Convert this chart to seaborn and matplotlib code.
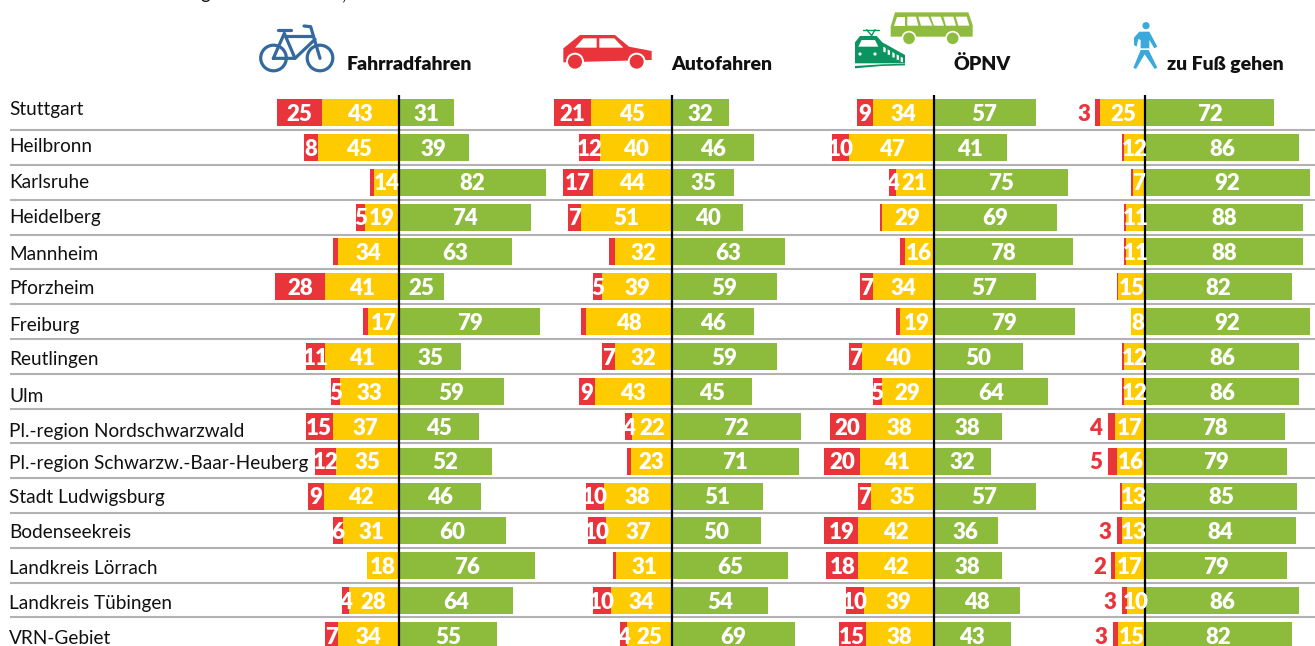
import matplotlib
matplotlib.use("Agg")
import matplotlib.pyplot as plt
from matplotlib.patches import Circle, Polygon
import pandas as pd
import seaborn as sns

cities = ["Stuttgart", "Heilbronn", "Karlsruhe", "Heidelberg", "Mannheim", "Pforzheim", "Freiburg",
          "Reutlingen", "Ulm", "Pl.-region Nordschwarzwald", "Pl.-region Schwarzw.-Baar-Heuberg",
          "Stadt Ludwigsburg", "Bodenseekreis", "Landkreis Lörrach", "Landkreis Tübingen", "VRN-Gebiet"]

rad_rot = [25, 8, 2, 5, 3, 28, 3, 11, 5, 15, 12, 9, 6, 0, 4, 7]
rad_gelb = [43, 45, 14, 19, 34, 41, 17, 41, 33, 37, 35, 42, 31, 18, 28, 34]
rad_gruen = [31, 39, 82, 74, 63, 25, 79, 35, 59, 45, 52, 46, 60, 76, 64, 55]

auto_rot = [21, 12, 17, 7, 3, 5, 3, 7, 9, 4, 2, 10, 10, 2, 10, 4]
auto_gelb = [45, 40, 44, 51, 32, 39, 48, 32, 43, 22, 23, 38, 37, 31, 34, 25]
auto_gruen = [32, 46, 35, 40, 63, 59, 46, 59, 45, 72, 71, 51, 50, 65, 54, 69]

oepnv_rot = [9, 10, 4, 1, 3, 7, 2, 7, 5, 20, 20, 7, 19, 18, 10, 15]
oepnv_gelb = [34, 47, 21, 29, 16, 34, 19, 40, 29, 38, 41, 35, 42, 42, 39, 38]
oepnv_gruen = [57, 41, 75, 69, 78, 57, 79, 50, 64, 38, 32, 57, 36, 38, 48, 43]

fuss_rot = [3, 1, 1, 1, 1, 1, 0, 1, 1, 4, 5, 1, 3, 2, 3, 3]
fuss_gelb = [25, 12, 7, 11, 11, 15, 8, 12, 12, 17, 16, 13, 13, 17, 10, 15]
fuss_gruen = [72, 86, 92, 88, 88, 82, 92, 86, 86, 78, 79, 85, 84, 79, 86, 82]

titles = ["Fahrradfahren", "Autofahren", "ÖPNV", "zu Fuß gehen"]

W, H = 1315, 646
ROT, GELB, GRUEN = "#e9343b", "#fecb00", "#8dbb3c"
label_y = [110, 146, 182, 218, 254, 289, 325, 360, 396, 431, 463, 497, 533, 568, 604, 639]

sns.set_theme(style="white")
plt.rcParams["font.family"] = ["Lato", "DejaVu Sans"]
fig = plt.figure(figsize=(W / 100, H / 100), dpi=100)

# Background layer in pixel coordinates: separators, row names, headers, icons
bg = fig.add_axes([0, 0, 1, 1])
bg.set_xlim(0, W)
bg.set_ylim(H, 0)
bg.axis("off")
for i in range(15):
    y = 130.2 + 34.8 * i
    bg.plot([10, W], [y, y], color="#b2b2b2", lw=1.5, solid_capstyle="butt")
for name, y in zip(cities, label_y):
    bg.text(9, y, name, fontsize=13.7, color="#111111", va="center", ha="left")
for t, x in zip(titles, [347, 671, 954, 1167]):
    bg.text(x, 64.5, t, fontsize=14, fontweight="heavy", color="#111111", va="center", ha="left")
# Remains of a heading line cut off by the upper picture edge
for t, x in zip(["g", ","], [200, 342]):
    bg.text(x, -1, t, fontsize=13.7, color="#111111", va="baseline", ha="left")


def pts(ox, oy, seq, k=3.0):
    return [(ox + a / k, oy + b / k) for a, b in seq]


# Bicycle
BLUE = "#33699f"
for cx in (273.5, 320):
    bg.add_patch(Circle((cx, 58), 12.8, fill=False, ec=BLUE, lw=2.3))
for seq in ([(520, 175), (553, 100), (585, 175), (520, 175)],
            [(585, 175), (645, 118)], [(560, 108), (640, 108)],
            [(612, 78), (632, 80), (660, 175)], [(535, 91), (572, 91)]):
    xs, ys = zip(*pts(100, 0, seq))
    bg.plot(xs, ys, color=BLUE, lw=2.3, solid_capstyle="round", solid_joinstyle="round")

# Car
CAR = ROT
bg.add_patch(Polygon(pts(555, 25, [(25, 70), (75, 30), (180, 30), (222, 65), (290, 78), (290, 105),
                                   (25, 112)]), fc=CAR, ec="none"))
for seq in ([(60, 68), (85, 40), (125, 40), (125, 68)], [(133, 40), (178, 40), (205, 68), (133, 68)]):
    bg.add_patch(Polygon(pts(555, 25, seq), fc="white", ec="none"))
for cx in (60, 245):
    bg.add_patch(Circle((555 + cx / 3, 25 + 110 / 3), 9, fc="white", ec="none"))
    bg.add_patch(Circle((555 + cx / 3, 25 + 110 / 3), 7, fc=CAR, ec="none"))

# Bus
BUS = "#8fbc3f"
bg.add_patch(Polygon(pts(850, 5, [(122, 95), (122, 65), (135, 22), (355, 22), (368, 60), (368, 95)]),
                     fc=BUS, ec="none"))
for seq in ([(140, 35), (165, 35), (165, 62), (133, 62)], [(172, 35), (198, 35), (205, 62), (172, 62)],
            [(205, 35), (235, 35), (247, 62), (213, 62)], [(242, 35), (272, 35), (282, 62), (252, 62)],
            [(280, 35), (310, 35), (318, 62), (288, 62)], [(317, 35), (350, 35), (358, 62), (325, 62)]):
    bg.add_patch(Polygon(pts(850, 5, seq), fc="white", ec="none"))
for cx in (177, 308):
    bg.add_patch(Circle((850 + cx / 3, 5 + 100 / 3), 7.5, fc="white", ec="none"))
    bg.add_patch(Circle((850 + cx / 3, 5 + 100 / 3), 5.8, fc=BUS, ec="none"))

# Train
TRAIN = "#0a9460"
bg.add_patch(Polygon(pts(850, 5, [(15, 170), (15, 112), (30, 93), (80, 93), (97, 112), (165, 150),
                                  (165, 175), (15, 175)]), fc=TRAIN, ec="none"))
bg.add_patch(Polygon(pts(850, 5, [(25, 125), (35, 105), (75, 105), (85, 125)]), fc="white", ec="none"))
for cx in (30, 75):
    bg.add_patch(Circle((850 + cx / 3, 5 + 147 / 3), 1.6, fc="white", ec="none"))
for a, b in [(100, 125), (113, 133), (127, 141), (140, 148), (152, 155)]:
    bg.add_patch(Polygon(pts(850, 5, [(a, b), (a + 7, b + 4), (a + 7, b + 17), (a, b + 16)]), fc="white", ec="none"))
bg.add_patch(Polygon(pts(850, 5, [(15, 183), (95, 178), (165, 176), (165, 181), (95, 183), (15, 190)]),
                     fc=TRAIN, ec="none"))
for seq in ([(38, 74), (87, 74)], [(50, 74), (65, 92), (75, 74)]):
    xs, ys = zip(*pts(850, 5, seq))
    bg.plot(xs, ys, color=TRAIN, lw=1.0)

# Pedestrian
PED = "#3ba9dc"
bg.add_patch(Circle((1120 + 78 / 3, 15 + 32 / 3), 3.6, fc=PED, ec="none"))
bg.add_patch(Polygon(pts(1120, 15, [(58, 50), (88, 50), (112, 95), (103, 100), (88, 75), (88, 100), (62, 100),
                                    (62, 75), (55, 72), (50, 95), (42, 90), (42, 68)]), fc=PED, ec="none"))
bg.add_patch(Polygon(pts(1120, 15, [(62, 105), (86, 105), (112, 158), (104, 162), (74, 118), (48, 162), (40, 158)]),
                     fc=PED, ec="none"))

# Four diverging panels, each on its own full-figure axes
SCALE = 1.79
panels = [(398.8, rad_rot, rad_gelb, rad_gruen, False),
          (671.8, auto_rot, auto_gelb, auto_gruen, False),
          (933.6, oepnv_rot, oepnv_gelb, oepnv_gruen, False),
          (1145.2, fuss_rot, fuss_gelb, fuss_gruen, True)]

for zero, rot, gelb, gruen, outside in panels:
    ax = fig.add_axes([0, 0, 1, 1])
    ax.patch.set_alpha(0)
    df = pd.DataFrame({"city": cities, "rot": rot, "gelb": gelb, "gruen": gruen})
    df["links"] = -(df["rot"] + df["gelb"])
    df["mitte"] = -df["gelb"]
    common = dict(data=df, y="city", order=cities, orient="y", errorbar=None, saturation=1, width=0.775,
                  ax=ax, linewidth=0)
    sns.barplot(x="links", color=ROT, **common)
    sns.barplot(x="mitte", color=GELB, **common)
    sns.barplot(x="gruen", color=GRUEN, **common)
    ax.set_xlim(-zero / SCALE, (W - zero) / SCALE)
    ax.set_ylim((H - 112.5) / 34.87, -112.5 / 34.87)
    ax.axis("off")
    ax.plot([0, 0], [(95 - 112.5) / 34.87, (H - 112.5) / 34.87], color="black", lw=1.6, zorder=5,
            solid_capstyle="butt")
    tk = dict(fontsize=16, fontweight="heavy", va="center", ha="center", zorder=6, clip_on=False)
    for i, (r, g, n) in enumerate(zip(rot, gelb, gruen)):
        yy = i + 0.05
        ax.text(-g / 2, yy, str(g), color="white", **tk)
        ax.text(n / 2, yy, str(n), color="white", **tk)
        if outside:
            if r >= 2:
                ax.text(-(g + r) - 6.5, yy, str(r), color=ROT, **tk)
        elif r >= 4:
            ax.text(-(g + r / 2), yy, str(r), color="white", **tk)

fig.savefig("out.png", dpi=100)
